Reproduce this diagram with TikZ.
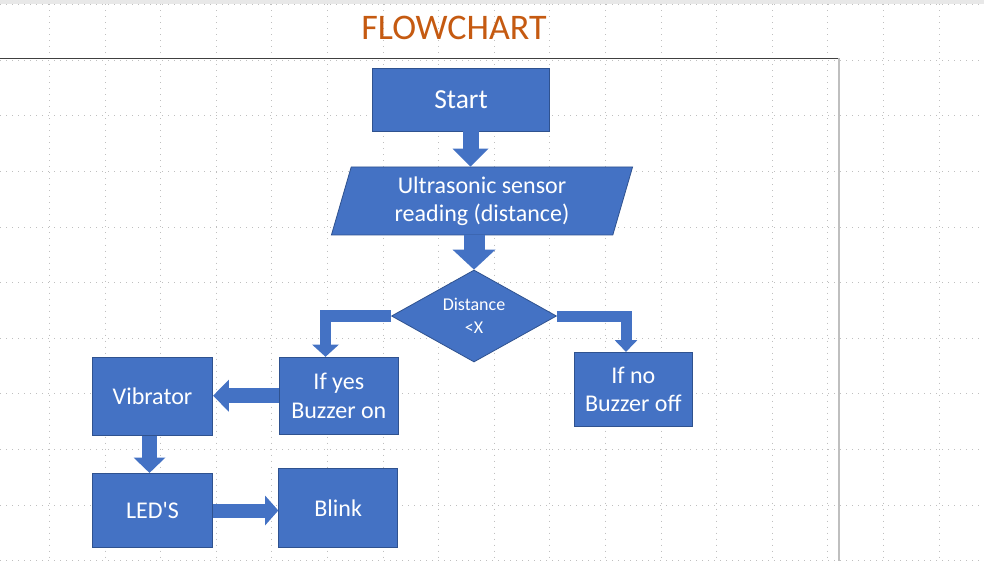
\documentclass[tikz,border=0pt]{standalone}
\usepackage{fontspec}
\setmainfont{Carlito}
\usetikzlibrary{shapes.geometric,arrows.meta}
\definecolor{shapeblue}{HTML}{4472C4}
\definecolor{shapeedge}{HTML}{2F528F}
\definecolor{titleorange}{HTML}{C55A11}

\begin{document}
\begin{tikzpicture}[x=1pt,y=-1pt,
  gridline/.style={gray!50,line width=0.6pt,dash pattern=on 1pt off 5pt},
  box/.style={draw=shapeedge,fill=shapeblue,text=white,line width=0.8pt,
    inner sep=0pt,align=center,font=\fontsize{24}{28.5}\selectfont},
  iobox/.style={box,shape=trapezium,trapezium left angle=75,
    trapezium right angle=105,trapezium stretches=true},
  decision/.style={box,shape=diamond,aspect=1.8,
    font=\fontsize{18}{22.5}\selectfont},
  blockarrow/.style n args={3}{draw=shapeblue,line width=#1pt,line join=miter,
    -{Triangle[length=#2pt,width=#3pt,line width=0pt]}}]
  \useasboundingbox (0,0) rectangle (984,561);
  \fill[white] (0,0) rectangle (984,561);
  \fill[gray!18] (0,0) rectangle (984,4.5);
  % grid
  \foreach \gx in {0,...,16} {
    \draw[gridline] ({49.3+55.6*\gx},4.5) -- ({49.3+55.6*\gx},561);
  }
  \foreach \gy in {0,...,10} {
    \draw[gridline] (0,{4.5+55.6*\gy}) -- (984,{4.5+55.6*\gy});
  }
  % slide edge
  \draw[black!75,line width=1pt] (0,58.5) -- (838.5,58.5);
  \draw[gray!50,line width=2pt] (838.5,58.5) -- (838.5,561);

  \node[text=titleorange,font=\fontsize{36}{40}\selectfont] (title) at (454,27.7) {FLOWCHART};

  \node[box,minimum width=177pt,minimum height=63pt,font=\fontsize{27.5}{30}\selectfont] (start) at (461,99.5) {Start};
  \node[iobox,minimum width=302pt,minimum height=68pt] (read) at (482,201) {Ultrasonic sensor\\reading (distance)};
  \node[decision,minimum width=165pt,minimum height=92pt] (dec) at (474,316) {Distance\\<X};
  \node[box,minimum width=119pt,minimum height=77pt] (yes) at (338.8,395.7) {If yes\\Buzzer on};
  \node[box,minimum width=118.7pt,minimum height=74.4pt] (no) at (633.3,389.5) {If no\\Buzzer off};
  \node[box,minimum width=120.4pt,minimum height=78.4pt] (vib) at (152.5,396.3) {Vibrator};
  \node[box,minimum width=120.4pt,minimum height=74.4pt] (led) at (152.5,510.5) {LED\textquotesingle S};
  \node[box,minimum width=119pt,minimum height=79.4pt] (blink) at (338.2,508) {Blink};

  \draw[blockarrow={16}{18}{36}] ([xshift=9.5pt]start.south) -- ([xshift=9.5pt]start.south |- read.north);
  \draw[blockarrow={21}{20}{43}] (read.south -| dec.north) -- (dec.north);
  \draw[blockarrow={11.5}{12.3}{27}] (dec.west) -| ([xshift=-13.3pt]yes.north);
  \draw[blockarrow={11}{11.7}{22.5}] (dec.east) -| ([xshift=-7.3pt]no.north);
  \draw[blockarrow={15}{15.7}{32}] (yes.west) -- (yes.west -| vib.east);
  \draw[blockarrow={15.6}{15.4}{32}] ([xshift=-3pt]vib.south) -- ([xshift=-3pt]vib.south |- led.north);
  \draw[blockarrow={14}{13.3}{30}] (led.east) -- (led.east -| blink.west);
\end{tikzpicture}
\end{document}
